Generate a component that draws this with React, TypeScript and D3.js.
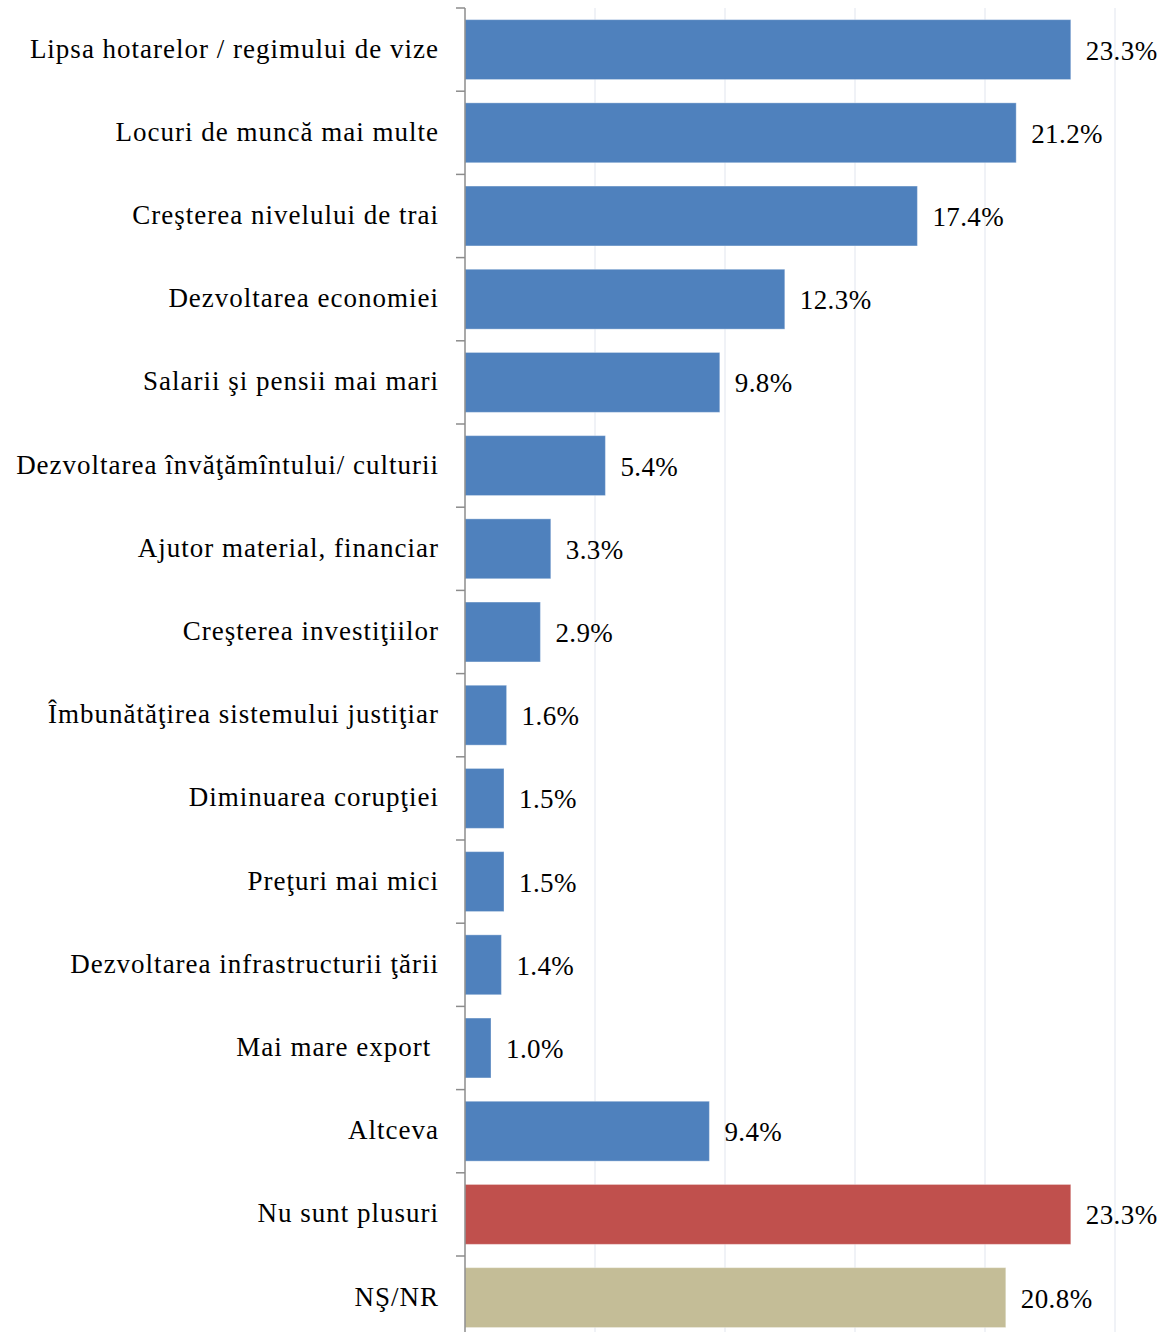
import React from "react";
import * as d3 from "d3";

const categories = [
  "Lipsa hotarelor / regimului de vize",
  "Locuri de muncă mai multe",
  "Creşterea nivelului de trai",
  "Dezvoltarea economiei",
  "Salarii şi pensii mai mari",
  "Dezvoltarea învăţămîntului/ culturii",
  "Ajutor material, financiar",
  "Creşterea investiţiilor",
  "Îmbunătăţirea sistemului justiţiar",
  "Diminuarea corupţiei",
  "Preţuri mai mici",
  "Dezvoltarea infrastructurii ţării",
  "Mai mare export ",
  "Altceva",
  "Nu sunt plusuri",
  "NŞ/NR",
];
const values = [23.3, 21.2, 17.4, 12.3, 9.8, 5.4, 3.3, 2.9, 1.6, 1.5, 1.5, 1.4, 1.0, 9.4, 23.3, 20.8];
const barColors = [
  "#4F81BD", "#4F81BD", "#4F81BD", "#4F81BD", "#4F81BD", "#4F81BD", "#4F81BD", "#4F81BD",
  "#4F81BD", "#4F81BD", "#4F81BD", "#4F81BD", "#4F81BD", "#4F81BD", "#C0504D", "#C4BD97",
];
const gridTicks = [5, 10, 15, 20, 25];

const W = 1172;
const H = 1332;
const FONT = "'Liberation Serif', 'Times New Roman', serif";

export default function App() {
  const x = d3.scaleLinear().domain([0, 25]).range([465, 1115]);
  const y = d3
    .scaleBand<string>()
    .domain(categories)
    .range([8, 8 + 16 * 83.2])
    .paddingInner(0.28)
    .paddingOuter(0.14);
  const step = y.step();
  const bandTop = (c: string) => 8 + categories.indexOf(c) * step;

  return (
    <svg
      width={W}
      height={H}
      style={{ position: "absolute", left: 0, top: 0, background: "#fff" }}
    >
      {gridTicks.map((t) => (
        <line key={t} x1={x(t)} x2={x(t)} y1={8} y2={H} stroke="#E1E5EE" strokeWidth={1} />
      ))}
      {categories.map((c, i) => (
        <rect
          key={c}
          x={x(0)}
          y={y(c)}
          width={x(values[i]) - x(0)}
          height={y.bandwidth()}
          fill={barColors[i]}
          stroke="#ffffff"
          strokeOpacity={0.35}
          strokeWidth={1}
        />
      ))}
      <line x1={x(0)} x2={x(0)} y1={8} y2={H} stroke="#8C8C8C" strokeWidth={1.5} />
      {categories.map((c) => (
        <line key={"t" + c} x1={x(0) - 9} x2={x(0)} y1={bandTop(c)} y2={bandTop(c)} stroke="#8C8C8C" strokeWidth={1.5} />
      ))}
      {categories.map((c) => (
        <text
          key={"l" + c}
          x={439}
          y={bandTop(c) + step / 2 + 8}
          textAnchor="end"
          fontFamily={FONT}
          fontSize={27}
          letterSpacing={1}
          fill="#000"
          style={{ whiteSpace: "pre" }}
        >
          {c}
        </text>
      ))}
      {categories.map((c, i) => (
        <text
          key={"v" + c}
          x={x(values[i]) + 15}
          y={bandTop(c) + step / 2 + 10}
          fontFamily={FONT}
          fontSize={27}
          letterSpacing={0.4}
          fill="#000"
        >
          {values[i].toFixed(1) + "%"}
        </text>
      ))}
    </svg>
  );
}
